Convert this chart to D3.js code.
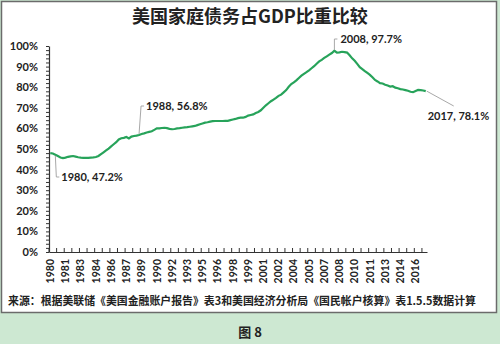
<!DOCTYPE html>
<html><head><meta charset="utf-8">
<script src="https://cdn.jsdelivr.net/npm/d3@7"></script>
<style>body{margin:0;padding:0;background:#fff}svg{display:block}</style>
</head><body>
<script>
// ---- data ----
const years = d3.range(1980, 2018);
const quarterLabels = [];
years.forEach(y => { for (let q = 1; q <= 4; q++) if (!(y === 2017 && q > 1)) quarterLabels.push(y + "Q" + q); });
const debtRatio = [
  48.0, 47.8, 47.2, 46.6,
  45.9, 45.6, 45.8, 46.2,
  46.4, 46.6, 46.3, 46.0,
  45.8, 45.7, 45.7, 45.7,
  45.8, 45.9, 46.1, 46.6,
  47.5, 48.4, 49.3, 50.2,
  51.3, 52.3, 53.3, 54.6,
  55.2, 55.4, 55.8, 55.1,
  56.0, 56.3, 56.5, 56.8,
  57.3, 57.6, 58.0, 58.3,
  58.6, 59.3, 60.0, 60.0,
  60.2, 60.3, 60.1, 59.8,
  59.6, 59.7, 60.0, 60.1,
  60.3, 60.5, 60.6, 60.8,
  61.0, 61.2, 61.6, 62.0,
  62.4, 62.8, 63.0, 63.3,
  63.5, 63.6, 63.6, 63.6,
  63.6, 63.7, 63.7, 64.0,
  64.3, 64.6, 65.0, 65.2,
  65.2, 65.6, 66.2, 66.5,
  66.8, 67.5, 68.0, 68.8,
  70.0, 71.2, 72.2, 73.2,
  74.0, 74.8, 75.8, 76.4,
  77.5, 78.6, 80.2, 81.5,
  82.3, 83.3, 84.5, 85.6,
  86.5, 87.3, 88.2, 89.2,
  90.2, 91.4, 92.5, 93.3,
  94.2, 95.0, 95.8, 96.6,
  97.7, 96.8, 96.9, 97.2,
  97.0, 96.8, 95.5, 94.0,
  92.8, 91.3, 89.7, 88.8,
  87.8, 86.9, 86.0, 84.8,
  83.5, 82.8, 82.0, 81.8,
  81.2, 80.8, 80.3, 80.5,
  79.8, 79.5, 79.1, 78.9,
  78.6, 78.3, 77.8, 77.6,
  78.2, 78.7, 78.6, 78.4,
  78.1
];
const yTicks = [0, 10, 20, 30, 40, 50, 60, 70, 80, 90, 100];
const annotations = [
  { idx: 2,   text: "1980, 47.2%" },
  { idx: 35,  text: "1988, 56.8%" },
  { idx: 112, text: "2008, 97.7%" },
  { idx: 148, text: "2017, 78.1%" }
];
const titleText = "美国家庭债务占GDP比重比较";
const sourceText = "来源：根据美联储《美国金融账户报告》表3和美国经济分析局《国民帐户核算》表1.5.5数据计算";
const figText = "图 8";

// ---- drawing ----
const W = 500, H = 344;
const svg = d3.select("body").append("svg").attr("width", W).attr("height", H);
svg.append("rect").attr("width", W).attr("height", H).attr("fill", "#cde8d2");
svg.append("rect").attr("x", 1.5).attr("y", 1.5).attr("width", 495).attr("height", 311)
  .attr("fill", "#fff").attr("stroke", "#6b6b6b").attr("stroke-width", 1.5);

const cjk = "'Noto Sans CJK SC', sans-serif";
const lat = "Lato, 'Noto Sans CJK SC', sans-serif";

svg.append("text").attr("x", 250).attr("y", 23).attr("text-anchor", "middle")
  .attr("font-family", cjk).attr("font-weight", "bold").attr("font-size", 18)
  .attr("fill", "#222").text(titleText);

const x = d3.scaleBand().domain(d3.range(debtRatio.length)).range([49, 427]).padding(0);
const y = d3.scaleLinear().domain([0, 100]).range([252, 46]);
const bw = x.bandwidth();
const cx = i => x(i) + bw / 2;

// y axis
const yAxis = d3.axisLeft(y).tickValues(yTicks).tickSize(0).tickPadding(11).tickFormat(d => d + "%");
const gy = svg.append("g").attr("transform", "translate(49,0)").call(yAxis);
gy.select(".domain").attr("stroke", "#333").attr("stroke-width", 1.2);
gy.selectAll("text").attr("font-family", lat).attr("font-weight", "bold").attr("font-size", 11).attr("fill", "#222");
const gyMinor = svg.append("g").attr("transform", "translate(49,0)").call(
  d3.axisLeft(y).tickValues(d3.range(0, 101, 2)).tickSize(3).tickFormat(""));
gyMinor.select(".domain").remove();
gyMinor.selectAll("line").attr("stroke", "#333");

// x axis
const xAxis = d3.axisBottom(x).tickValues(d3.range(0, debtRatio.length, 6)).tickSize(0).tickPadding(0)
  .tickFormat(i => quarterLabels[i].slice(0, 4));
const gx = svg.append("g").attr("transform", "translate(0,252)").call(xAxis);
gx.select(".domain").attr("stroke", "#333").attr("stroke-width", 1.2);
gx.selectAll("text").attr("font-family", lat).attr("font-weight", "bold").attr("font-size", 10.5).attr("fill", "#222")
  .attr("transform", "rotate(-90)").attr("text-anchor", "end").attr("dx", "-7").attr("dy", "0.35em").attr("y", 0);
const tickIdx = d3.range(0, debtRatio.length + 1, 3);
svg.append("g").selectAll("line").data(tickIdx).join("line")
  .attr("x1", i => 49 + i * bw).attr("x2", i => 49 + i * bw)
  .attr("y1", 252).attr("y2", 248).attr("stroke", "#333");

// line
const line = d3.line().x((d, i) => cx(i)).y(d => y(d)).curve(d3.curveLinear);
svg.append("path").datum(debtRatio).attr("d", line).attr("fill", "none")
  .attr("stroke", "#27a35a").attr("stroke-width", 2.2);

// annotations
const ann = svg.append("g").attr("font-family", lat).attr("font-weight", "bold").attr("font-size", 11).attr("fill", "#222");
const a0 = annotations[0], a1 = annotations[1], a2 = annotations[2], a3 = annotations[3];
const lead = (pts) => svg.append("path").attr("d", d3.line()(pts)).attr("fill", "none").attr("stroke", "#a8a8a8").attr("stroke-width", 1);
// 1980
lead([[cx(a0.idx), y(debtRatio[a0.idx]) + 1], [cx(a0.idx) + 1, 177], [cx(a0.idx) + 4, 177]]);
ann.append("text").attr("x", cx(a0.idx) + 6).attr("y", 181).text(a0.text);
// 1988
lead([[cx(a1.idx), y(debtRatio[a1.idx]) - 1], [cx(a1.idx) + 2, 106], [cx(a1.idx) + 5, 106]]);
ann.append("text").attr("x", cx(a1.idx) + 7).attr("y", 110).text(a1.text);
// 2008
lead([[cx(a2.idx), y(debtRatio[a2.idx]) - 1], [cx(a2.idx), 39], [cx(a2.idx) + 3, 39]]);
ann.append("text").attr("x", cx(a2.idx) + 6).attr("y", 43).text(a2.text);
// 2017
lead([[cx(a3.idx) + 1, y(debtRatio[a3.idx])], [cx(a3.idx) + 28, 106]]);
ann.append("text").attr("x", cx(a3.idx) + 2).attr("y", 120).text(a3.text);

// source
svg.append("text").attr("x", 8).attr("y", 305).attr("font-family", cjk).attr("font-weight", "bold")
  .attr("font-size", 11).attr("fill", "#222").attr("textLength", 468).attr("lengthAdjust", "spacingAndGlyphs")
  .text(sourceText);
svg.append("text").attr("x", 250).attr("y", 337).attr("text-anchor", "middle").attr("font-family", cjk)
  .attr("font-weight", "bold").attr("font-size", 13).attr("fill", "#222").text(figText);
</script>
</body></html>
